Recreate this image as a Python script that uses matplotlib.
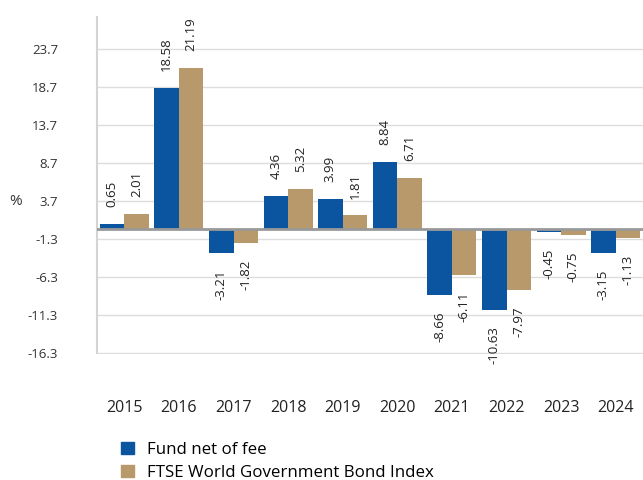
import matplotlib.pyplot as plt
import numpy as np
from matplotlib.patches import Patch

plt.rcParams['font.family'] = ['Open Sans', 'DejaVu Sans']

years = ['2015', '2016', '2017', '2018', '2019', '2020', '2021', '2022', '2023', '2024']
fund = [0.65, 18.58, -3.21, 4.36, 3.99, 8.84, -8.66, -10.63, -0.45, -3.15]
index = [2.01, 21.19, -1.82, 5.32, 1.81, 6.71, -6.11, -7.97, -0.75, -1.13]
yticks = [-16.3, -11.3, -6.3, -1.3, 3.7, 8.7, 13.7, 18.7, 23.7]

blue = '#0B549F'
tan = '#B8996B'

fig = plt.figure(figsize=(6.43, 4.80), dpi=100)
ax = fig.add_axes([97/643, 1-354/480, 546/643, 337/480])

x = np.arange(len(years))
w = 0.45
b1 = ax.bar(x - w/2, fund, w, color=blue, zorder=3)
b2 = ax.bar(x + w/2, index, w, color=tan, zorder=3)

for bars, vals in ((b1, fund), (b2, index)):
    for r, v in zip(bars, vals):
        cx = r.get_x() + r.get_width()/2
        if v >= 0:
            ax.annotate(f'{v:.2f}', (cx, v), xytext=(0, 12), textcoords='offset points',
                        rotation=90, ha='center', va='bottom', fontsize=9.5, color='#222222')
        else:
            ax.annotate(f'{v:.2f}', (cx, v), xytext=(0, -12), textcoords='offset points',
                        rotation=90, ha='center', va='top', fontsize=9.5, color='#222222')

ax.set_xlim(-0.5, len(years) - 0.5)
ax.set_ylim(-16.45, 27.9)
ax.set_yticks(yticks)
ax.set_yticklabels([f'{t:.1f}' for t in yticks], fontsize=9.5, color='#333333')
ax.set_xticks(x)
ax.set_xticklabels(years, fontsize=11.5, color='#222222')
ax.tick_params(axis='both', length=0)
ax.tick_params(axis='x', pad=33)
ax.tick_params(axis='y', pad=28)

ax.grid(axis='y', color='#dddddd', linewidth=1, zorder=0)
ax.axhline(0, color='#999999', linewidth=2, zorder=4)
for s in ['top', 'right', 'bottom']:
    ax.spines[s].set_visible(False)
ax.spines['left'].set_color('#d4d4d4')
ax.spines['left'].set_linewidth(1.5)
ax.spines['left'].set_bounds(-16.3, 27.9)

ax.set_ylabel('%', rotation=0, fontsize=11, color='#333333')
ax.yaxis.set_label_coords(-0.15, 0.43)

handles = [Patch(color=blue), Patch(color=tan)]
fig.legend(handles, ['Fund net of fee', 'FTSE World Government Bond Index'],
           loc='upper left', bbox_to_anchor=(0.175, 0.097), frameon=False,
           fontsize=12.2, handlelength=0.75, handleheight=0.75, handletextpad=0.8,
           labelspacing=0.4, borderpad=0)

fig.savefig('out.png', dpi=100)
